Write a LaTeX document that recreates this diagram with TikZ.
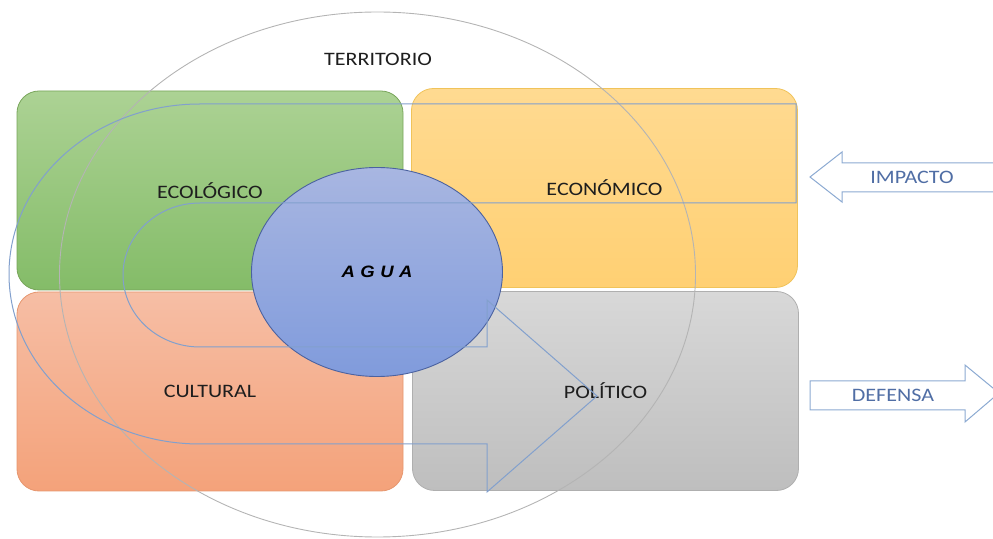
\documentclass[tikz,border=0pt]{standalone}
\usepackage{fontspec}
\setmainfont{Carlito}[FakeStretch=1.16]
\newfontfamily\aguafont{Liberation Sans}[FakeStretch=1.12]
\usepackage{tikz}
\usetikzlibrary{shapes}

\definecolor{ecotop}{RGB}{172,210,148}
\definecolor{ecobot}{RGB}{132,188,104}
\definecolor{ecoline}{RGB}{120,165,90}
\definecolor{econtop}{RGB}{255,218,145}
\definecolor{econbot}{RGB}{255,208,115}
\definecolor{econline}{RGB}{240,195,90}
\definecolor{culttop}{RGB}{246,190,165}
\definecolor{cultbot}{RGB}{244,162,122}
\definecolor{cultline}{RGB}{230,150,110}
\definecolor{poltop}{RGB}{216,216,216}
\definecolor{polbot}{RGB}{190,190,190}
\definecolor{polline}{RGB}{175,175,175}
\definecolor{aguatop}{RGB}{168,182,225}
\definecolor{aguabot}{RGB}{128,155,220}
\definecolor{agualine}{RGB}{75,98,160}
\definecolor{uline}{RGB}{130,160,205}
\definecolor{terrline}{RGB}{180,180,180}
\definecolor{flechaline}{RGB}{140,170,210}
\definecolor{flechatext}{RGB}{80,110,165}
\definecolor{labeltext}{RGB}{30,30,30}

\tikzset{
	area/.style={rounded corners=22pt, inner sep=0pt, minimum width=386pt, minimum height=199pt, line width=0.8pt, text=labeltext, font=\fontsize{19}{22}\selectfont},
	flecha/.style={draw=flechaline, fill=white, line width=1pt},
	flechalabel/.style={text=flechatext, font=\fontsize{19}{22}\selectfont}
}

\begin{document}
\begin{tikzpicture}[x=1pt, y=1pt]

		\clip ( 0, 0 ) rectangle ( 993, 538 );

		\node[area, draw=ecoline, top color=ecotop, bottom color=ecobot, at={( 210, 347.5 )}] (eco) {ECOLÓGICO};
		\node[area, draw=econline, top color=econtop, bottom color=econbot, at={( 604.5, 350 )}] (econ) {ECONÓMICO};
		\node[area, draw=cultline, top color=culttop, bottom color=cultbot, at={( 210, 146.5 )}] (cult) {CULTURAL};
		\node[area, draw=polline, top color=poltop, bottom color=polbot, at={( 605.5, 147 )}] (pol) {POLÍTICO};

		\node[ellipse, draw=terrline, line width=0.9pt, inner sep=0pt, minimum width=636pt, minimum height=525pt, at={( 377.5, 263.5 )}] (terr) {};
		\node[text=labeltext, font=\fontsize{19}{22}\selectfont, at={( 378, 479 )}] (terrlabel) {TERRITORIO};

		\node[ellipse, draw=agualine, line width=0.9pt, top color=aguatop, bottom color=aguabot, inner sep=0pt, minimum width=251pt, minimum height=209pt, at={( 377, 266 )}, font=\aguafont\bfseries\itshape\fontsize{16.5}{19}\selectfont] (agua) {A\,\,G\,\,U\,\,A};

		% vuelta en U
		\draw[uline, line width=1pt] ( 796, 434 ) -- ( 200, 434 )
			arc[start angle=90, end angle=270, x radius=191, y radius=170]
			-- ( 487, 94 ) -- ( 487, 46 ) -- ( 597, 142 ) -- ( 487, 238 ) -- ( 487, 191 ) -- ( 200, 191 )
			arc[start angle=270, end angle=90, x radius=77, y radius=72]
			-- ( 796, 335 ) -- cycle;

		\draw[flecha] ( 1000, 375 ) -- ( 842, 375 ) -- ( 842, 386 ) -- ( 810, 361 ) -- ( 842, 336 ) -- ( 842, 346 ) -- ( 1000, 346 );
		\node[flechalabel, at={( 912, 361 )}] (impacto) {IMPACTO};

		\draw[flecha] ( 810, 157 ) -- ( 965, 157 ) -- ( 965, 173 ) -- ( 999, 145 ) -- ( 965, 116 ) -- ( 965, 128 ) -- ( 810, 128 ) -- cycle;
		\node[flechalabel, at={( 893, 143 )}] (defensa) {DEFENSA};

	\end{tikzpicture}
\end{document}
